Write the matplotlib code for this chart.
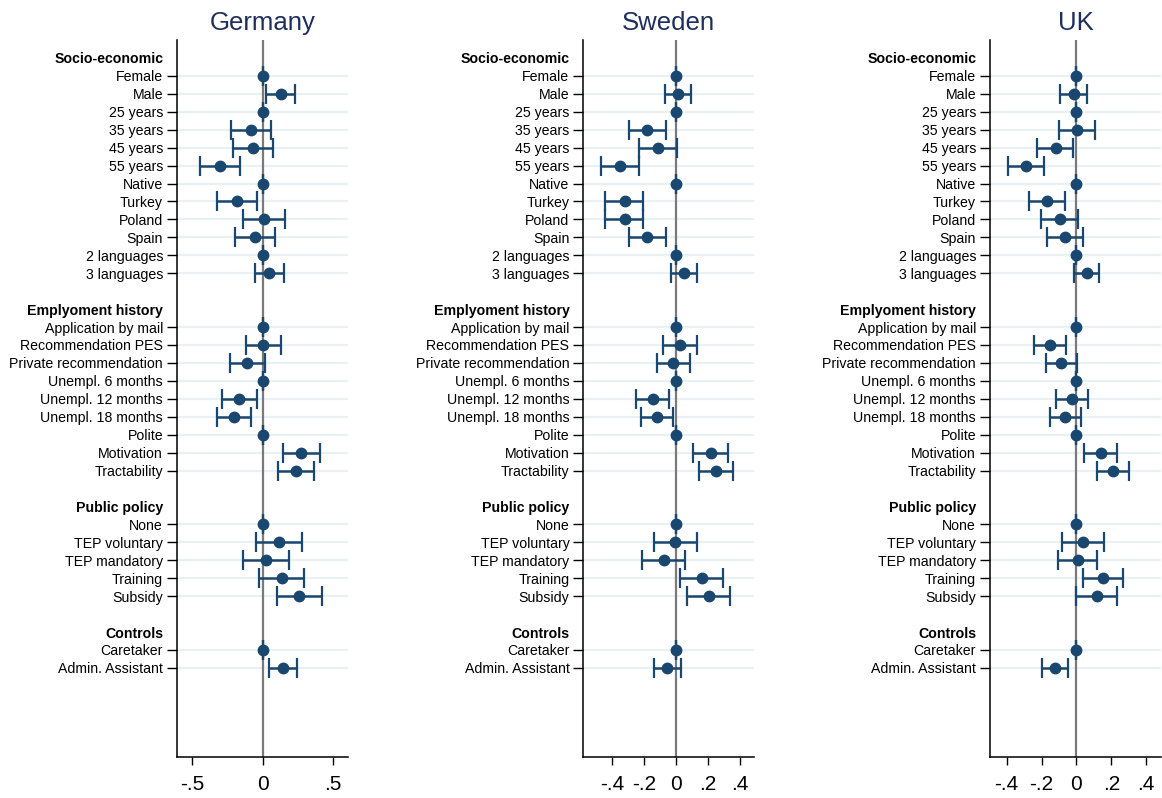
import numpy as np
import matplotlib.pyplot as plt
from matplotlib.ticker import FixedLocator, FuncFormatter

plt.rcParams["font.family"] = ["Liberation Sans", "DejaVu Sans"]

# Row layout: group headers followed by their attribute levels
groups = ["Socio-economic", "Emplyoment history", "Public policy", "Controls"]
levels = [
    ["Female", "Male", "25 years", "35 years", "45 years", "55 years", "Native",
     "Turkey", "Poland", "Spain", "2 languages", "3 languages"],
    ["Application by mail", "Recommendation PES", "Private recommendation",
     "Unempl. 6 months", "Unempl. 12 months", "Unempl. 18 months", "Polite",
     "Motivation", "Tractability"],
    ["None", "TEP voluntary", "TEP mandatory", "Training", "Subsidy"],
    ["Caretaker", "Admin. Assistant"],
]

countries = ["Germany", "Sweden", "UK"]

# Point estimates (reference categories are 0)
germany_b = [0, 0.128, 0, -0.086, -0.071, -0.304, 0, -0.180, 0.009, -0.057, 0, 0.047,
             0, 0.005, -0.109, 0, -0.166, -0.204, 0, 0.270, 0.237,
             0, 0.114, 0.024, 0.137, 0.261,
             0, 0.142]
germany_lo = [0, 0.024, 0, -0.228, -0.213, -0.446, 0, -0.323, -0.138, -0.199, 0, -0.052,
              0, -0.119, -0.233, 0, -0.289, -0.327, 0, 0.142, 0.109,
              0, -0.048, -0.142, -0.028, 0.100,
              0, 0.043]
germany_hi = [0, 0.228, 0, 0.057, 0.076, -0.161, 0, -0.038, 0.156, 0.085, 0, 0.152,
              0, 0.128, 0.019, 0, -0.043, -0.081, 0, 0.408, 0.365,
              0, 0.280, 0.185, 0.294, 0.422,
              0, 0.242]

sweden_b = [0, 0.013, 0, -0.179, -0.112, -0.350, 0, -0.321, -0.321, -0.179, 0, 0.050,
            0, 0.025, -0.017, 0, -0.146, -0.117, 0, 0.217, 0.250,
            0, -0.004, -0.075, 0.163, 0.204,
            0, -0.054]
sweden_lo = [0, -0.071, 0, -0.296, -0.229, -0.467, 0, -0.442, -0.446, -0.296, 0, -0.033,
             0, -0.079, -0.121, 0, -0.250, -0.221, 0, 0.108, 0.146,
             0, -0.138, -0.213, 0.025, 0.067,
             0, -0.138]
sweden_hi = [0, 0.096, 0, -0.063, 0.004, -0.229, 0, -0.208, -0.208, -0.063, 0, 0.133,
             0, 0.129, 0.088, 0, -0.042, -0.017, 0, 0.325, 0.358,
             0, 0.133, 0.054, 0.292, 0.338,
             0, 0.029]

uk_b = [0, -0.015, 0, 0.004, -0.119, -0.288, 0, -0.169, -0.096, -0.065, 0, 0.058,
        0, -0.150, -0.088, 0, -0.023, -0.065, 0, 0.142, 0.208,
        0, 0.038, 0.008, 0.154, 0.115,
        0, -0.123]
uk_lo = [0, -0.092, 0, -0.100, -0.227, -0.392, 0, -0.273, -0.204, -0.169, 0, -0.015,
         0, -0.242, -0.177, 0, -0.115, -0.154, 0, 0.046, 0.115,
         0, -0.085, -0.108, 0.035, 0.000,
         0, -0.200]
uk_hi = [0, 0.058, 0, 0.108, -0.019, -0.188, 0, -0.065, 0.008, 0.038, 0, 0.131,
         0, -0.058, 0.004, 0, 0.069, 0.027, 0, 0.235, 0.304,
         0, 0.158, 0.119, 0.269, 0.235,
         0, -0.050]

estimates = {
    "Germany": (germany_b, germany_lo, germany_hi),
    "Sweden": (sweden_b, sweden_lo, sweden_hi),
    "UK": (uk_b, uk_lo, uk_hi),
}
xticks = {
    "Germany": [-0.5, 0, 0.5],
    "Sweden": [-0.4, -0.2, 0, 0.2, 0.4],
    "UK": [-0.4, -0.2, 0, 0.2, 0.4],
}
xlims = {"Germany": (-0.61, 0.607), "Sweden": (-0.579, 0.489), "UK": (-0.496, 0.485)}
lefts = {"Germany": 177, "Sweden": 583.3, "UK": 990}

# y positions: header row, then items, then one blank row between groups
labels, ypos, header_rows, item_rows = [], [], [], []
row = 0
for g, items in zip(groups, levels):
    labels.append(g)
    ypos.append(row)
    header_rows.append(len(labels) - 1)
    row += 1
    for it in items:
        labels.append(it)
        ypos.append(row)
        item_rows.append(row)
        row += 1
    row += 1

navy = "#1a476f"
W, H = 1162, 798


def stata_fmt(v, _):
    if abs(v) < 1e-9:
        return "0"
    s = f"{v:g}"
    return s.replace("0.", ".")


fig = plt.figure(figsize=(W / 100, H / 100), dpi=100)

for c in countries:
    ax = fig.add_axes([lefts[c] / W, 41.3 / H, 171 / W, 716.7 / H])
    b, lo, hi = (np.array(a) for a in estimates[c])
    y = np.array(item_rows)

    for r in item_rows:
        ax.axhline(r, color="#e9f1f3", lw=1.6, zorder=0)
    ax.axvline(0, color="#7a7a7a", lw=1.6, zorder=1)

    ax.errorbar(b, y, xerr=[b - lo, hi - b], fmt="o", color=navy, ms=7.5,
                elinewidth=1.8, capsize=7.5, capthick=1.6, zorder=3)

    ax.set_xlim(*xlims[c])
    ax.set_ylim(38.95, -1)
    ax.xaxis.set_major_locator(FixedLocator(xticks[c]))
    ax.xaxis.set_major_formatter(FuncFormatter(stata_fmt))
    ax.tick_params(axis="x", labelsize=15, length=6, width=1.0, pad=7)
    ax.set_yticks(ypos)
    ax.set_yticklabels(labels)
    ax.tick_params(axis="y", labelsize=10.2, length=7, width=1.0, pad=3)
    yticks = ax.yaxis.get_major_ticks()
    for i in header_rows:
        yticks[i].tick1line.set_visible(False)
        yticks[i].label1.set_fontweight("bold")

    for side in ("top", "right"):
        ax.spines[side].set_visible(False)
    for side in ("left", "bottom"):
        ax.spines[side].set_linewidth(1.1)

    ax.set_title(c, fontsize=18.5, color="#1f2f5c", pad=7)

fig.savefig("out.png", dpi=100)
